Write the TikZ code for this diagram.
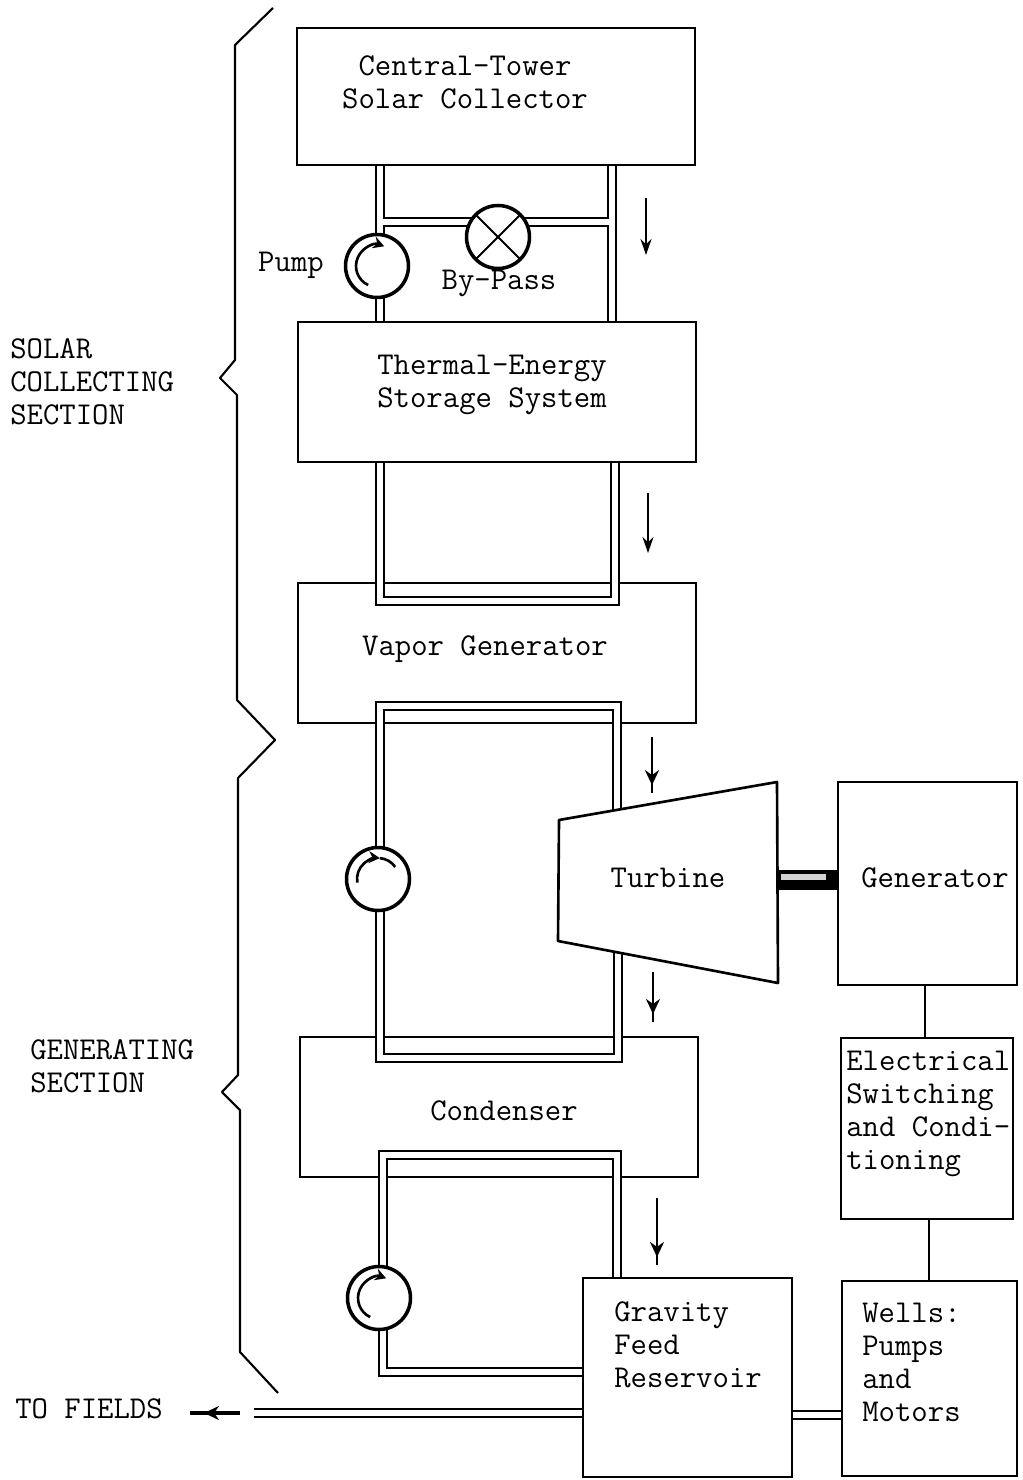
\documentclass[tikz,border=0pt]{standalone}
\usepackage{fontspec}
\usetikzlibrary{arrows.meta,backgrounds,calc,decorations.markings}
\begin{document}
\begin{tikzpicture}[
  x=0.02cm,
  y=-0.02cm,
  boxnode/.style={rectangle, draw=black, line width=1.5pt, inner sep=0pt, outer sep=0pt},
  pumpnode/.style={circle, draw=black, fill=white, line width=2pt, inner sep=0pt, outer sep=0pt, minimum size=1.26cm},
  lbl/.style={font=\ttfamily\fontsize{18.1}{18.8}\selectfont, align=left, inner sep=0pt},
  pipe/.style={draw=black, line width=1.4pt, double=white, double distance=3.4pt},
  wire/.style={draw=black, line width=1.2pt},
  flow/.style={draw=black, line width=1.2pt, -{Stealth[length=3.2mm, width=2.2mm]}},
  flowy/.style={draw=black, line width=1.2pt, postaction={decorate},
    decoration={markings, mark=at position #1 with {\arrow{Stealth[length=3mm, width=2.8mm]}}}},
  turn/.style={draw=black, line width=1.5pt, -{Stealth[length=2.2mm, width=2.4mm]}},
  brace/.style={draw=black, line width=1.2pt, line join=round}
]
  \useasboundingbox (0,0) rectangle (1022,1480);

  % Boxes crossed by the pipes
  \begin{pgfonlayer}{background}
    \node[boxnode, minimum width=7.96cm, minimum height=2.8cm] (vapor) at (497,653) {};
    \node[boxnode, minimum width=7.96cm, minimum height=2.8cm] (condenser) at (499,1107) {};
  \end{pgfonlayer}

  % Other boxes
  \node[boxnode, minimum width=7.96cm, minimum height=2.74cm] (collector) at (496,96.5) {};
  \node[boxnode, minimum width=7.96cm, minimum height=2.8cm] (storage) at (497,392) {};
  \node[boxnode, minimum width=3.58cm, minimum height=4.06cm] (generator) at (927.5,883.5) {};
  \node[boxnode, minimum width=3.44cm, minimum height=3.62cm] (switching) at (927,1128.5) {};
  \node[boxnode, minimum width=4.18cm, minimum height=3.98cm] (reservoir) at (687.5,1377.5) {};
  \node[boxnode, minimum width=3.5cm, minimum height=3.9cm] (wells) at (929.5,1378.5) {};

  % Turbine
  \draw[boxnode, line join=round] (559,820) -- (777,782) -- (778,983) -- (558,941) -- cycle;
  \coordinate (turbtop) at (617,810);
  \coordinate (turbbot) at (618,953);
  \coordinate (turbout) at (777,880);

  % Pumps and by-pass valve
  \node[pumpnode] (pumpa) at (377,266) {};
  \node[pumpnode] (pumpb) at (378,879) {};
  \node[pumpnode] (pumpc) at (379,1298) {};
  \node[pumpnode] (valve) at (498,237) {};
  \draw[wire] (valve.45) -- (valve.225);
  \draw[wire] (valve.135) -- (valve.315);

  % Pipes
  \coordinate (xa) at (380,0);
  \coordinate (xb) at (612,0);
  \coordinate (xc) at (615,0);
  \coordinate (xd) at (617,0);
  \begin{pgfonlayer}{background}
    \draw[pipe] (xa |- collector.south) -- (xa |- storage.north)
                (xb |- collector.south) -- (xb |- storage.north)
                (380,222) -- (612,222);
    \draw[pipe, line join=miter] (xa |- storage.south) -- (380,601) -- (615,601) -- (xc |- storage.south);
    \draw[pipe, line join=miter] (turbtop) -- (617,706) -- (380,706) -- (380,1058) -- (618,1058) -- (turbbot);
    \draw[pipe, line join=miter] (xd |- reservoir.north) -- (617,1155) -- (383,1155) -- (383,1372) -- (583,1372);
    \draw[pipe] (254,1413) -- (583,1413);
    \draw[pipe] (792,1415) -- (842,1415);
  \end{pgfonlayer}

  % Shaft and wires
  \draw[draw=black, line width=11pt] (turbout) -- (generator.west |- turbout);
  \draw[draw=gray!35, line width=3pt] (781,877) -- (826,877);
  \draw[wire] (925,985) -- (925,1038);
  \draw[wire] (929,1219) -- (929,1281);

  % Arrows in the pump circles
  \draw[turn] ($(pumpa)+(245:0.42cm)$) arc[start angle=245, end angle=70, radius=0.42cm];
  \draw[turn] ($(pumpb)+(190:0.42cm)$) arc[start angle=190, end angle=85, radius=0.42cm];
  \draw[draw=black, line width=1.5pt] ($(pumpb)+(85:0.42cm)$) arc[start angle=85, end angle=35, radius=0.42cm];
  \draw[turn] ($(pumpc)+(245:0.42cm)$) arc[start angle=245, end angle=70, radius=0.42cm];

  % Flow arrows
  \coordinate (fa1) at (646,198); \coordinate (fa2) at (646,255);
  \coordinate (fb1) at (648,493); \coordinate (fb2) at (648,553);
  \coordinate (fc1) at (652,737); \coordinate (fc2) at (652,793);
  \coordinate (fd1) at (653,972); \coordinate (fd2) at (653,1022);
  \coordinate (fe1) at (657,1198); \coordinate (fe2) at (657,1265);
  \coordinate (ff1) at (240,1413); \coordinate (ff2) at (190,1413);
  \draw[flow] (fa1) -- (fa2);
  \draw[flow] (fb1) -- (fb2);
  \draw[flowy=0.86] (fc1) -- (fc2);
  \draw[flowy=0.84] (fd1) -- (fd2);
  \draw[flowy=0.88] (fe1) -- (fe2);
  \draw[flowy=0.72, line width=1.8pt] (ff1) -- (ff2);

  % Section brackets
  \draw[brace] (273,8) -- (235,45) -- (235,360) -- (220,378) -- (237,395) -- (237,700)
    -- (275,740) -- (238,778) -- (238,1075) -- (222,1092) -- (240,1110) -- (240,1352) -- (278,1393);

  % Labels
  \node[lbl, align=center] (collectorlbl) at (465,82) {Central-Tower\\Solar Collector};
  \node[lbl, align=center] (storagelbl) at (492,385) {Thermal-Energy\\Storage System};
  \node[lbl] (vaporlbl) at (485,649) {Vapor Generator};
  \node[lbl] (condenserlbl) at (504,1111) {Condenser};
  \node[lbl] (turbinelbl) at (668,878) {Turbine};
  \node[lbl] (generatorlbl) at (935,878) {Generator};
  \node[lbl, anchor=west] (switchinglbl) at (846,1114) {Electrical\\Switching\\and Condi-\\tioning};
  \node[lbl, anchor=west] (reservoirlbl) at (614,1345) {Gravity\\Feed\\Reservoir};
  \node[lbl, anchor=west] (wellslbl) at (862,1362) {Wells:\\Pumps\\and\\Motors};
  \node[lbl] (pumplbl) at (291,265) {Pump};
  \node[lbl] (bypasslbl) at (499,283) {By-Pass};
  \node[lbl, anchor=west] (solarlbl) at (10,382) {SOLAR\\COLLECTING\\SECTION};
  \node[lbl, anchor=west] (genlbl) at (30,1066) {GENERATING\\SECTION};
  \node[lbl, anchor=west] (fieldslbl) at (15,1409) {TO FIELDS};
\end{tikzpicture}
\end{document}
